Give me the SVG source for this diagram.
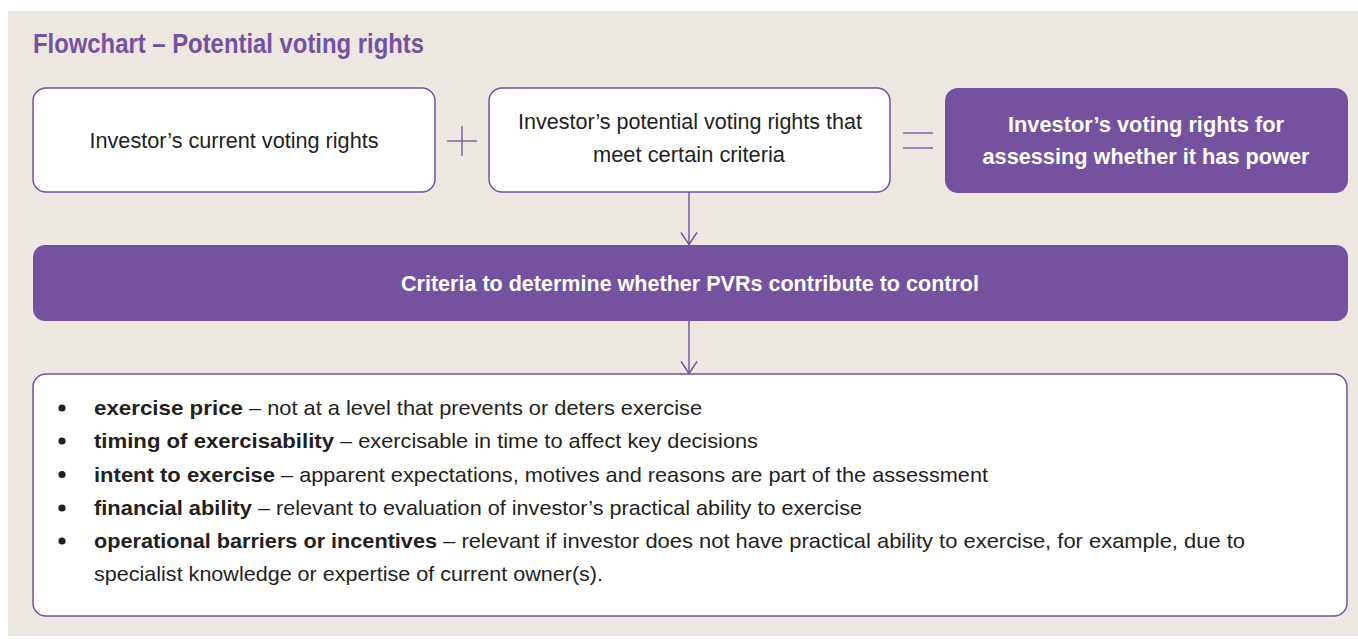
<svg xmlns="http://www.w3.org/2000/svg" width="1358" height="639" viewBox="0 0 1358 639">
  <defs>
    <marker id="arr" viewBox="-1 -9 14 18" refX="12" refY="0" markerWidth="14" markerHeight="18" markerUnits="userSpaceOnUse" orient="auto">
      <path d="M0,-8 L12,0 L0,8" fill="none" stroke="#7452A0" stroke-width="1.4"/>
    </marker>
  </defs>
  <style>
    .box { fill: #FFFFFF; stroke: #7452A0; stroke-width: 1.5; }
    .pbox { fill: #7452A0; }
    .t { font-family: "Liberation Sans", Arial, sans-serif; font-size: 22.5px; fill: #231F20; }
    .tw { font-family: "Liberation Sans", Arial, sans-serif; font-size: 22.5px; font-weight: bold; fill: #FFFFFF; }
    .b { font-family: "Liberation Sans", Arial, sans-serif; font-size: 21px; fill: #231F20; }
    .bb { font-weight: bold; }
    .op { stroke: #7452A0; stroke-width: 1.3; fill: none; }
    .conn { stroke: #7452A0; stroke-width: 1.4; fill: none; }
  </style>
  <rect x="0" y="0" width="1358" height="639" fill="#FFFFFF"/>
  <rect x="8" y="11" width="1350" height="625" fill="#ECE7E1"/>

  <text x="33" y="53" font-family="'Liberation Sans', Arial, sans-serif" font-size="28" font-weight="bold" fill="#7452A0" textLength="391" lengthAdjust="spacingAndGlyphs">Flowchart – Potential voting rights</text>

  <g id="current">
    <rect class="box" x="33" y="88" width="402" height="104" rx="13"/>
    <text class="t" x="234" y="148" text-anchor="middle" textLength="289" lengthAdjust="spacingAndGlyphs">Investor’s current voting rights</text>
  </g>

  <g id="plus">
    <line class="op" x1="447" y1="141" x2="477" y2="141"/>
    <line class="op" x1="462" y1="126" x2="462" y2="156"/>
  </g>

  <g id="potential">
    <rect class="box" x="489" y="88" width="401" height="104" rx="13"/>
    <text class="t" x="690" y="129" text-anchor="middle" textLength="344" lengthAdjust="spacingAndGlyphs">Investor’s potential voting rights that</text>
    <text class="t" x="689" y="162" text-anchor="middle" textLength="192" lengthAdjust="spacingAndGlyphs">meet certain criteria</text>
  </g>

  <g id="equals">
    <line class="op" x1="903" y1="133" x2="933" y2="133"/>
    <line class="op" x1="903" y1="148" x2="933" y2="148"/>
  </g>

  <g id="result">
    <rect class="pbox" x="945" y="88" width="403" height="105" rx="13"/>
    <text class="tw" x="1146" y="132" text-anchor="middle" textLength="276" lengthAdjust="spacingAndGlyphs">Investor’s voting rights for</text>
    <text class="tw" x="1146" y="164" text-anchor="middle" textLength="327" lengthAdjust="spacingAndGlyphs">assessing whether it has power</text>
  </g>

  <g id="criteria">
    <rect class="pbox" x="33" y="245" width="1315" height="76" rx="12"/>
    <text class="tw" x="690" y="291" text-anchor="middle" textLength="578" lengthAdjust="spacingAndGlyphs">Criteria to determine whether PVRs contribute to control</text>
  </g>

  <g id="list">
    <rect class="box" x="33" y="374" width="1314" height="242" rx="13"/>
    <g fill="#231F20">
      <circle cx="62" cy="408" r="3.6"/>
      <circle cx="62" cy="441" r="3.6"/>
      <circle cx="62" cy="474.5" r="3.6"/>
      <circle cx="62" cy="508" r="3.6"/>
      <circle cx="62" cy="541" r="3.6"/>
    </g>
    <text class="b" y="415"><tspan class="bb" x="94" textLength="149" lengthAdjust="spacingAndGlyphs">exercise price</tspan><tspan x="243" textLength="459" lengthAdjust="spacingAndGlyphs"> – not at a level that prevents or deters exercise</tspan></text>
    <text class="b" y="448"><tspan class="bb" x="94" textLength="240" lengthAdjust="spacingAndGlyphs">timing of exercisability</tspan><tspan x="334" textLength="424" lengthAdjust="spacingAndGlyphs"> – exercisable in time to affect key decisions</tspan></text>
    <text class="b" y="481.5"><tspan class="bb" x="94" textLength="181" lengthAdjust="spacingAndGlyphs">intent to exercise</tspan><tspan x="275" textLength="713" lengthAdjust="spacingAndGlyphs"> – apparent expectations, motives and reasons are part of the assessment</tspan></text>
    <text class="b" y="515"><tspan class="bb" x="94" textLength="158" lengthAdjust="spacingAndGlyphs">financial ability</tspan><tspan x="252" textLength="610" lengthAdjust="spacingAndGlyphs"> – relevant to evaluation of investor’s practical ability to exercise</tspan></text>
    <text class="b" y="548"><tspan class="bb" x="94" textLength="343" lengthAdjust="spacingAndGlyphs">operational barriers or incentives</tspan><tspan x="437" textLength="808" lengthAdjust="spacingAndGlyphs"> – relevant if investor does not have practical ability to exercise, for example, due to</tspan></text>
    <text class="b" y="581" x="94" textLength="509" lengthAdjust="spacingAndGlyphs">specialist knowledge or expertise of current owner(s).</text>
  </g>

  <g id="connectors">
    <line class="conn" x1="689" y1="192" x2="689" y2="244.5" marker-end="url(#arr)"/>
    <line class="conn" x1="689" y1="321" x2="689" y2="373.5" marker-end="url(#arr)"/>
  </g>
</svg>
